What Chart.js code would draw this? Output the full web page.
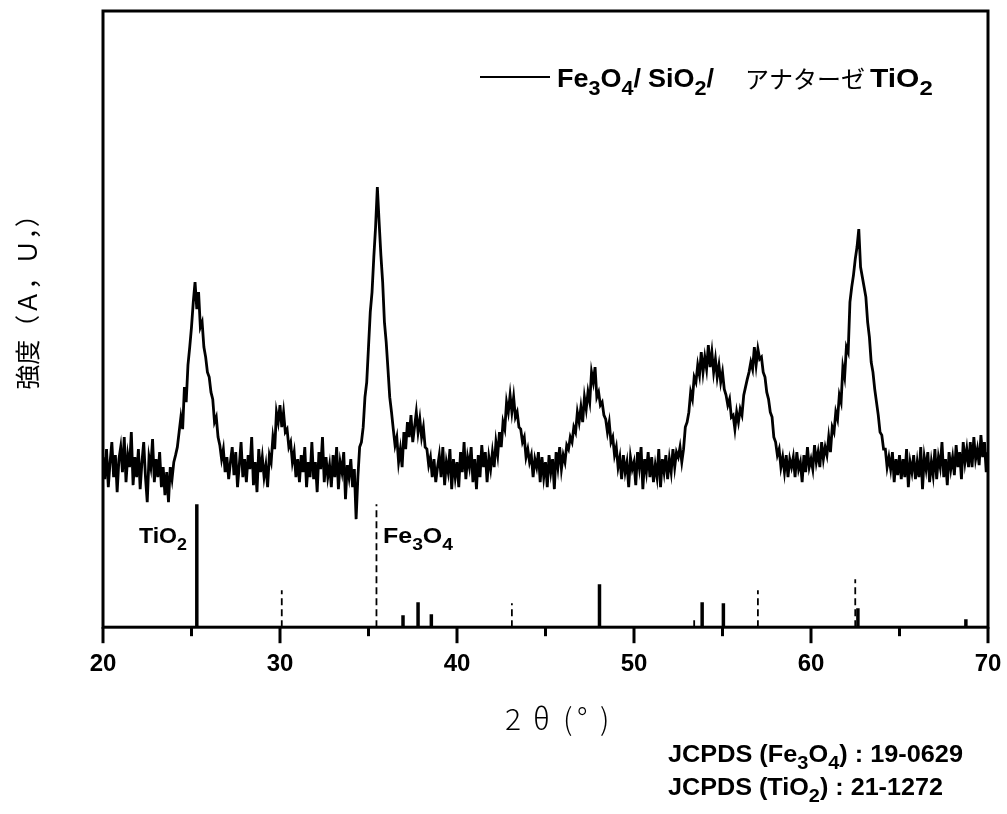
<!DOCTYPE html>
<html>
<head>
<meta charset="utf-8">
<script src="https://cdn.jsdelivr.net/npm/chart.js@4.4.1/dist/chart.umd.min.js"></script>
<style>
  html, body { margin: 0; padding: 0; background: #fff; }
  #wrap { width: 1007px; height: 814px; }
</style>
</head>
<body>
<div id="wrap"><canvas id="xrd"></canvas></div>
<script>
// 2theta grid of the scan: 20.0 .. 70.0 every 0.1 deg
const thetaStart = 20;
const thetaStep = 0.1;

// measured intensity (arb. units), one row per degree (x.0 .. x.9)
const intensity = [
  170,148,178,140,165,185,150,172,135,168,
  180,155,190,145,172,160,195,142,170,150,
  178,138,165,185,150,125,170,160,188,145,
  168,150,175,140,160,132,155,125,160,148,
  165,172,180,195,210,198,240,225,262,280,
  300,325,345,318,335,300,305,280,270,255,
  250,235,228,205,210,190,182,168,178,155,
  170,148,165,180,152,175,140,162,185,150,
  168,145,172,158,190,142,165,135,178,155,
  170,150,162,140,172,165,190,178,215,205,
  222,200,215,195,198,180,185,165,175,150,
  168,145,172,155,180,140,165,150,185,148,
  165,135,175,158,190,145,170,150,162,140,
  172,150,180,138,165,155,175,128,162,150,
  168,140,158,108,150,180,185,200,230,245,
  280,315,335,370,400,440,405,372,345,305,
  285,258,230,215,198,182,190,165,178,160,
  195,178,205,190,212,185,200,215,195,208,
  190,200,180,178,162,170,150,168,145,160,
  172,150,180,142,165,155,178,138,168,150,
  165,140,175,155,185,148,170,160,180,145,
  168,138,172,150,182,160,175,145,170,158,
  175,160,185,172,195,180,205,198,225,215,
  232,215,230,210,215,200,198,185,190,170,
  178,165,172,150,168,160,175,145,170,150,
  165,140,172,155,168,138,175,160,180,158,
  172,165,182,178,190,185,200,195,215,205,
  220,205,230,218,235,225,255,245,260,230,
  235,222,225,212,208,195,205,185,190,172,
  180,160,170,148,172,155,165,140,170,158,
  165,142,175,160,180,138,168,155,175,150,
  170,145,162,150,178,140,168,155,172,148,
  168,155,178,160,175,170,180,165,178,200,
  205,215,235,228,250,245,262,252,275,255,
  270,258,282,260,275,255,268,250,262,245,
  255,238,232,222,228,210,212,198,215,205,
  218,212,232,240,248,255,265,258,280,262,
  278,268,270,255,250,235,228,215,210,190,
  185,172,178,160,170,155,172,150,168,160,
  170,150,175,158,165,145,172,155,180,160,
  168,158,182,165,175,160,185,168,180,172,
  190,175,200,195,215,208,232,225,260,250,
  280,275,325,340,352,368,380,398,360,350,
  340,330,305,290,265,255,238,225,212,195,
  192,178,178,160,170,158,175,145,168,152,
  172,148,168,150,178,140,165,155,172,148,
  165,150,180,138,170,158,175,145,165,152,
  178,148,170,160,185,150,168,142,175,158,
  170,152,182,160,175,148,185,165,178,160,
  185,160,190,168,178,162,192,170,185,155,
  175
];

// reference patterns
const tiPos = [25.3, 36.95, 37.8, 38.55, 48.05, 53.85, 55.05, 62.65, 68.75];
const tiInt = [123, 12, 25, 13, 43, 25, 24, 19, 8];
const fePos = [30.1, 35.45, 43.1, 53.4, 57.0, 62.5];
const feInt = [37, 123, 24, 11, 37, 48];

const xTicks = [20, 30, 40, 50, 60, 70];

const scan = intensity.map((v, i) => ({ x: +(thetaStart + i * thetaStep).toFixed(1), y: v }));

function sticks(pos, inten) {
  const pts = [];
  pos.forEach((p, i) => {
    pts.push({ x: p, y: 0 }, { x: p, y: inten[i] }, { x: p, y: null });
  });
  return pts;
}

const SANS = "'Liberation Sans', Arial, sans-serif";
const CJK = "'Noto Sans CJK JP', sans-serif";

// draws text made of pieces (some subscripts); width -> fit to it, else stretch by k
function rich(ctx, x, y, parts, size, font, width, k) {
  ctx.textBaseline = 'alphabetic';
  ctx.textAlign = 'left';
  const fontOf = p => (p.font || font).replace('SZ', (p.sub ? Math.round(size * 0.78) : size) + 'px');
  let natural = 0;
  parts.forEach(p => { ctx.font = fontOf(p); natural += ctx.measureText(p.t).width; });
  const sx = width ? width / natural : (k || 1);
  ctx.save();
  ctx.translate(x, y);
  ctx.scale(sx, 1);
  let cx = 0;
  parts.forEach(p => {
    ctx.font = fontOf(p);
    ctx.fillText(p.t, cx, p.sub ? size * 0.3 : 0);
    cx += ctx.measureText(p.t).width;
  });
  ctx.restore();
}

const decor = {
  id: 'decor',
  afterDraw(chart) {
    const ctx = chart.ctx;
    const a = chart.chartArea;
    const xs = chart.scales.x;
    ctx.save();
    ctx.strokeStyle = '#000';
    ctx.fillStyle = '#000';

    // frame
    ctx.lineWidth = 3;
    ctx.strokeRect(a.left, a.top, a.right - a.left, a.bottom - a.top);

    // major and minor ticks
    for (let v = 20; v <= 70; v += 5) {
      const px = xs.getPixelForValue(v);
      const len = v % 10 === 0 ? 16 : 9;
      ctx.beginPath();
      ctx.moveTo(px, a.bottom);
      ctx.lineTo(px, a.bottom + len);
      ctx.stroke();
    }

    // legend
    ctx.lineWidth = 2;
    ctx.beginPath();
    ctx.moveTo(480, 77);
    ctx.lineTo(550, 77);
    ctx.stroke();
    const B = 'bold SZ ' + SANS;
    rich(ctx, 557, 87, [{ t: 'Fe' }, { t: '3', sub: 1 }, { t: 'O' }, { t: '4', sub: 1 }, { t: '/' }], 25, B, 0, 1.08);
    rich(ctx, 648, 87, [{ t: 'SiO' }, { t: '2', sub: 1 }, { t: '/' }], 25, B, 0, 1.08);
    rich(ctx, 745, 88, [{ t: 'アナターゼ' }], 24, 'SZ ' + CJK);
    rich(ctx, 870, 87, [{ t: 'TiO' }, { t: '2', sub: 1 }], 25, B, 0, 1.2);

    // pattern labels
    rich(ctx, 139, 543, [{ t: 'TiO' }, { t: '2', sub: 1 }], 22, B, 48);
    rich(ctx, 383, 543, [{ t: 'Fe' }, { t: '3', sub: 1 }, { t: 'O' }, { t: '4', sub: 1 }], 22, B, 70);

    // axis titles
    ctx.font = "300 30px " + CJK;
    ctx.textBaseline = 'middle';
    ctx.textAlign = 'left';
    const tChars = ['2', 'θ', '(', '°', ')'];
    const tX = [505, 533, 563, 577, 600];
    tChars.forEach((c, i) => ctx.fillText(c, tX[i], 719));

    ctx.save();
    ctx.translate(27, 296);
    ctx.rotate(-Math.PI / 2);
    ctx.textAlign = 'center';
    ctx.font = "25px " + CJK;
    ctx.fillText('強度（Ａ，Ｕ，）', 0, 0);
    ctx.restore();

    // JCPDS notes
    rich(ctx, 668, 762, [
      { t: 'JCPDS (Fe' }, { t: '3', sub: 1 }, { t: 'O' }, { t: '4', sub: 1 }, { t: ') : 19-0629' }
    ], 24, B, 295);
    rich(ctx, 668, 795, [
      { t: 'JCPDS (TiO' }, { t: '2', sub: 1 }, { t: ') : 21-1272' }
    ], 24, B, 275);

    ctx.restore();
  }
};

new Chart(document.getElementById('xrd'), {
  type: 'line',
  data: {
    datasets: [
      {
        label: 'Fe3O4/ SiO2/ アナターゼ TiO2',
        data: scan,
        borderColor: '#000',
        borderWidth: 2.8,
        pointRadius: 0,
        tension: 0
      },
      {
        label: 'TiO2',
        data: sticks(tiPos, tiInt),
        borderColor: '#000',
        borderWidth: 3.5,
        borderCapStyle: 'butt',
        pointRadius: 0,
        spanGaps: false
      },
      {
        label: 'Fe3O4',
        data: sticks(fePos, feInt),
        borderColor: '#000',
        borderWidth: 1.8,
        borderDash: [7, 4],
        pointRadius: 0,
        spanGaps: false
      }
    ]
  },
  options: {
    responsive: true,
    maintainAspectRatio: false,
    animation: false,
    layout: { padding: { left: 103, right: 19, top: 11, bottom: 120 } },
    plugins: { legend: { display: false }, tooltip: { enabled: false } },
    scales: {
      x: {
        type: 'linear',
        min: 20,
        max: 70,
        grid: { display: false },
        border: { display: false },
        afterBuildTicks: (s) => { s.ticks = xTicks.map(v => ({ value: v })); },
        afterFit: (s) => { s.paddingLeft = 0; s.paddingRight = 0; },
        ticks: {
          color: '#000',
          padding: 15,
          maxRotation: 0,
          autoSkip: false,
          font: { family: SANS, size: 24, weight: 'bold' }
        }
      },
      y: {
        display: false,
        min: 0,
        max: 616
      }
    }
  },
  plugins: [decor]
});
</script>
</body>
</html>
